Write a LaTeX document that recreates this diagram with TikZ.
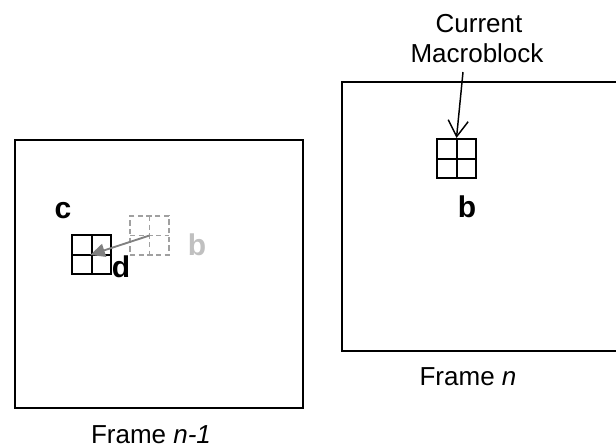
\documentclass[tikz,border=0pt]{standalone}
\usepackage{fontspec}
\setmainfont{Liberation Sans}
\usetikzlibrary{arrows.meta}
\definecolor{mvgray}{HTML}{808080}
\definecolor{dashgray}{HTML}{A0A0A0}
\definecolor{lightlbl}{HTML}{C0C0C0}
\begin{document}
\begin{tikzpicture}[x=0.75pt,y=-0.75pt,
  framebox/.style={draw=black,line width=1.5pt,inner sep=0pt},
  mblock/.style={draw,line width=1.5pt,minimum size=29.25pt,inner sep=0pt,
    path picture={
      \draw[line width=1.5pt] (path picture bounding box.north) -- (path picture bounding box.south);
      \draw[line width=1.5pt] (path picture bounding box.west) -- (path picture bounding box.east);
    }},
  ghostblock/.style={draw=dashgray,line width=1.2pt,dash pattern=on 4pt off 2.5pt,
    minimum size=29.25pt,inner sep=0pt,
    path picture={
      \draw[dashgray,line width=1.2pt,dash pattern=on 4pt off 2.5pt]
        (path picture bounding box.north) -- (path picture bounding box.south);
      \draw[dashgray,line width=1.2pt,dash pattern=on 4pt off 2.5pt]
        (path picture bounding box.west) -- (path picture bounding box.east);
    }},
  caption/.style={font=\fontsize{19.5}{22}\selectfont,inner sep=0pt,anchor=base},
  letter/.style={font=\fontsize{22.5}{26}\selectfont\bfseries,inner sep=0pt},
  pointer/.style={line width=1.1pt,-{Straight Barb[length=12pt,width=15pt,line width=1.1pt]}},
  motion/.style={mvgray,line width=1.4pt,-{Triangle[length=11pt,width=10pt]},shorten >=-1pt}
]
\useasboundingbox (0,0) rectangle (616,447);

% reference frame (n-1)
\node[framebox,minimum width=216pt,minimum height=201pt] (fprev) at (159,274) {};
% current frame (n), its right side runs off the page
\begin{scope}
\clip (0,0) rectangle (616,447);
\node[framebox,minimum width=208.5pt,minimum height=201.75pt] (fcur) at (481,216.5) {};
\end{scope}

% macroblocks
\node[mblock] (mbC) at (91.5,254.5) {};
\node[ghostblock] (mbD) at (149.5,235.5) {};
\node[mblock] (mbR) at (456.5,158.5) {};

% block letters
\node[letter] (lc) at (63,211) {c};
\node[letter] (ld) at (121,267) {d};
\node[letter,text=lightlbl] (lbg) at (197,245) {b};
\node[letter] (lb) at (467,207) {b};

% motion vector
\draw[motion] (mbD.center) -- (mbC.center);

% label of the current macroblock
\node[caption] (lblA) at (479,32) {Current};
\node[caption] (lblB) at (477,62) {Macroblock};
\coordinate (ptr) at (463,72);
\draw[pointer] (ptr) -- (mbR.north);

% frame captions
\node[caption] (capcur) at (468,385) {Frame \textit{n}};
\node[caption] (capprev) at (151,443) {Frame \textit{n-1}};
\end{tikzpicture}
\end{document}
